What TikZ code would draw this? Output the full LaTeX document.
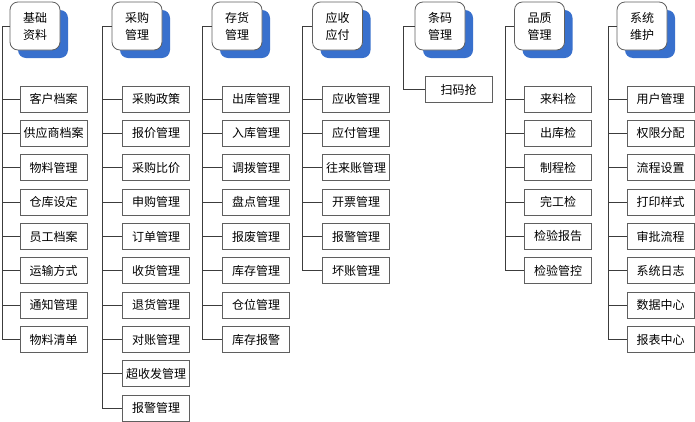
\documentclass[tikz,border=0pt]{standalone}
\usepackage{fontspec}
\setmainfont{Noto Sans CJK SC}
\usetikzlibrary{shadows}
\definecolor{shblue}{RGB}{56,112,205}
\definecolor{lncol}{RGB}{60,60,60}
\definecolor{bxcol}{RGB}{95,95,95}
\tikzset{
  hdr/.style={draw=bxcol, line width=0.8pt, fill=white, rounded corners=8pt,
    minimum width=50pt, minimum height=48pt, inner sep=0pt, align=center,
    font=\fontsize{12}{17}\selectfont,
    drop shadow={shadow xshift=8pt, shadow yshift=-8pt, fill=shblue, opacity=1}},
  child/.style={draw=bxcol, line width=0.8pt, fill=white, minimum width=67pt,
    minimum height=26pt, inner sep=0pt, font=\fontsize{12}{14}\selectfont},
  conn/.style={draw=lncol, line width=0.8pt}
}
\newcommand\mkgroup[6]{%
  \node[hdr] (h#1) at (#2,26) {#5};
  \coordinate (t#1) at (#3,26);
  \draw[conn] (h#1.west) -- (t#1);
  \foreach \itm [count=\i] in {#6} {
    \node[child] (c#1-\i) at (#4,{99+(\i-1)*34.36}) {\itm};
    \draw[conn] (t#1) |- (c#1-\i.west);
  }%
}
\begin{document}
\begin{tikzpicture}[x=1pt,y=-1pt]
\useasboundingbox (0,0) rectangle (695,421);
\mkgroup{1}{35}{2}{53.5}{基础\\资料}{客户档案,供应商档案,物料管理,仓库设定,员工档案,运输方式,通知管理,物料清单}
\mkgroup{2}{137}{102}{156}{采购\\管理}{采购政策,报价管理,采购比价,申购管理,订单管理,收货管理,退货管理,对账管理,超收发管理,报警管理}
\mkgroup{3}{237}{202}{256}{存货\\管理}{出库管理,入库管理,调拨管理,盘点管理,报废管理,库存管理,仓位管理,库存报警}
\mkgroup{4}{337.5}{302}{356}{应收\\应付}{应收管理,应付管理,往来账管理,开票管理,报警管理,坏账管理}
% group 5
\node[hdr] (h5) at (440,26) {条码\\管理};
\coordinate (t5) at (403,26);
\draw[conn] (h5.west) -- (t5);
\node[child] (c5-1) at (458.5,89.5) {扫码抢};
\draw[conn] (t5) |- (c5-1.west);
\mkgroup{6}{539.5}{505}{558}{品质\\管理}{来料检,出库检,制程检,完工检,检验报告,检验管控}
\mkgroup{7}{642}{608}{660.5}{系统\\维护}{用户管理,权限分配,流程设置,打印样式,审批流程,系统日志,数据中心,报表中心}
\end{tikzpicture}
\end{document}
